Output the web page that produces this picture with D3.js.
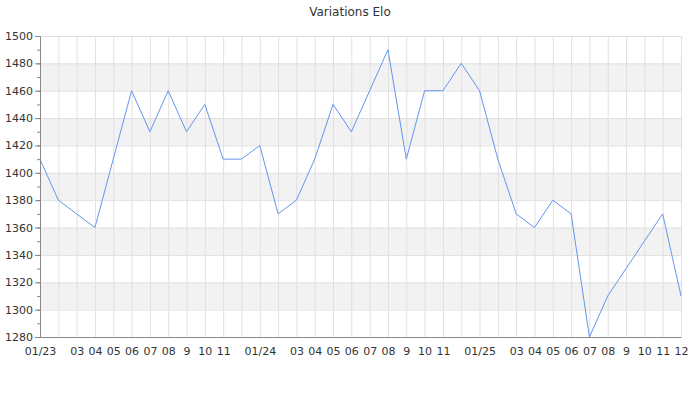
<!DOCTYPE html>
<html>
<head>
<meta charset="utf-8">
<script src="https://cdn.jsdelivr.net/npm/d3@7"></script>
<style>
  body { margin: 0; background: #fff; }
  svg text { font-family: "DejaVu Sans", sans-serif; }
</style>
</head>
<body>
<div id="chart"></div>
<script>
// monthly Elo, 01/2023 .. 12/2025
const months = d3.range(36);
const eloValues = [
  1410, 1380, 1370, 1360, 1410, 1460, 1430, 1460, 1430, 1450, 1410, 1410,
  1420, 1370, 1380, 1410, 1450, 1430, 1460, 1490, 1410, 1460, 1460, 1480,
  1460, 1410, 1370, 1360, 1380, 1370, 1280, 1310, 1330, 1350, 1370, 1310
];
const xTickLabels = [
  '01/23', '', '03', '04', '05', '06', '07', '08', '9', '10', '11', '',
  '01/24', '', '03', '04', '05', '06', '07', '08', '9', '10', '11', '',
  '01/25', '', '03', '04', '05', '06', '07', '08', '9', '10', '11', '12'
];
const yDomain = [1280, 1500];
const title = 'Variations Elo';

const width = 700, height = 400;
const margin = {left: 40, right: 19, top: 36, bottom: 63};
const w = width - margin.left - margin.right,
  h = height - margin.top - margin.bottom;

const svg = d3.select('#chart').append('svg')
  .attr('width', width)
  .attr('height', height);

const x = d3.scaleLinear().domain([0, months.length - 1]).range([0, w]);
const y = d3.scaleLinear().domain(yDomain).range([h, 0]);

svg.append('text')
  .attr('x', width / 2)
  .attr('y', 16)
  .attr('text-anchor', 'middle')
  .attr('font-size', 12)
  .attr('fill', '#333')
  .text(title);

const g = svg.append('g')
  .attr('transform', 'translate(' + margin.left + ',' + margin.top + ')');

// alternating bands
const majors = d3.range(yDomain[0], yDomain[1], 20);
g.selectAll('.band')
  .data(majors.filter((d, i) => i % 2 === 1))
  .enter().append('rect')
  .attr('class', 'band')
  .attr('x', 0)
  .attr('width', w)
  .attr('y', d => y(d + 20))
  .attr('height', d => y(d) - y(d + 20))
  .attr('fill', '#f2f2f2');

// gridlines
g.append('g')
  .call(d3.axisLeft(y).tickValues(d3.range(yDomain[0], yDomain[1] + 1, 20))
    .tickSize(-w).tickFormat(''))
  .call(s => s.select('.domain').remove())
  .selectAll('.tick line').attr('stroke', '#e0e0e0');

g.append('g')
  .attr('transform', 'translate(0,' + h + ')')
  .call(d3.axisBottom(x).tickValues(months).tickSize(-h).tickFormat(''))
  .call(s => s.select('.domain').remove())
  .selectAll('.tick line').attr('stroke', '#e0e0e0');

// line
g.append('path')
  .datum(eloValues)
  .attr('fill', 'none')
  .attr('stroke', '#6495ed')
  .attr('stroke-width', 1)
  .attr('d', d3.line().x((d, i) => x(months[i])).y(d => y(d)));

// y axis: minor + major ticks
g.append('g')
  .call(d3.axisLeft(y).tickValues(d3.range(yDomain[0], yDomain[1] + 1, 10))
    .tickSize(3).tickFormat(''))
  .call(s => s.select('.domain').remove())
  .selectAll('.tick line').attr('stroke', '#888');

const yAxis = g.append('g')
  .call(d3.axisLeft(y).tickValues(d3.range(yDomain[0], yDomain[1] + 1, 20))
    .tickSize(5).tickPadding(2).tickFormat(d3.format('d')));
yAxis.select('.domain').attr('stroke', '#888');
yAxis.selectAll('.tick line').attr('stroke', '#888');
yAxis.selectAll('.tick text').attr('font-size', 11).attr('fill', '#333')
  .style('font-family', '"DejaVu Sans", sans-serif');

const xAxis = g.append('g')
  .attr('transform', 'translate(0,' + h + ')')
  .call(d3.axisBottom(x).tickValues(months).tickSize(0).tickPadding(10)
    .tickFormat(i => xTickLabels[i]));
xAxis.select('.domain').attr('stroke', '#888');
xAxis.selectAll('.tick text').attr('font-size', 11).attr('fill', '#333')
  .style('font-family', '"DejaVu Sans", sans-serif');
</script>
</body>
</html>
